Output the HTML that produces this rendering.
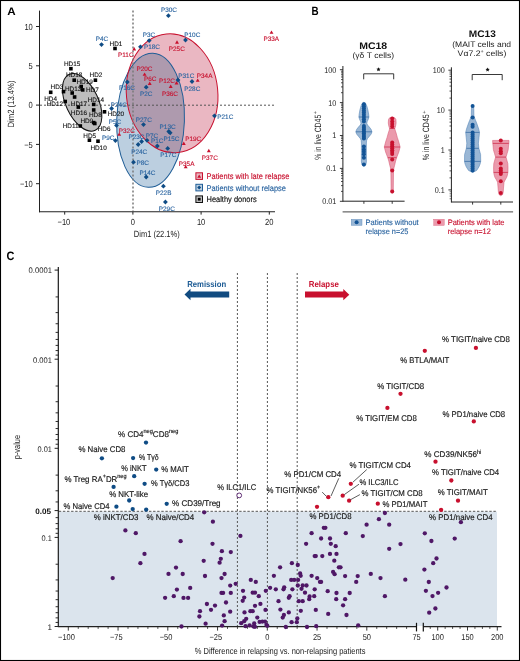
<!DOCTYPE html>
<html><head><meta charset="utf-8"><style>
html,body{margin:0;padding:0;background:#fff;}
svg{display:block;will-change:transform;}
text{font-family:"Liberation Sans",sans-serif;text-rendering:geometricPrecision;}
</style></head><body>
<svg width="520" height="661" viewBox="0 0 520 661">
<rect x="0" y="0" width="520" height="661" fill="#fff"/>
<text x="7.2" y="15.3" font-size="10.8" fill="#000" text-anchor="start" font-weight="bold" textLength="8.4" lengthAdjust="spacingAndGlyphs">A</text>
<defs><clipPath id="cb"><ellipse cx="150.58" cy="120.25" rx="67.09" ry="33.84" transform="rotate(-88.04 150.58 120.25)"/></clipPath></defs>
<ellipse cx="82.16" cy="102.36" rx="30.84" ry="16.26" transform="rotate(64.89 82.16 102.36)" fill="#bdbdbd" stroke="#111" stroke-width="1"/>
<ellipse cx="150.58" cy="120.25" rx="67.09" ry="33.84" transform="rotate(-88.04 150.58 120.25)" fill="#bccfe0"/>
<ellipse cx="172.1" cy="93.27" rx="59.5" ry="45.7" transform="rotate(84.42 172.1 93.27)" fill="#eab7c2"/>
<g clip-path="url(#cb)"><ellipse cx="172.1" cy="93.27" rx="59.5" ry="45.7" transform="rotate(84.42 172.1 93.27)" fill="#ae9aae"/></g>
<ellipse cx="150.58" cy="120.25" rx="67.09" ry="33.84" transform="rotate(-88.04 150.58 120.25)" fill="none" stroke="#1f5d96" stroke-width="1"/>
<ellipse cx="172.1" cy="93.27" rx="59.5" ry="45.7" transform="rotate(84.42 172.1 93.27)" fill="none" stroke="#c8102e" stroke-width="1"/>
<line x1="133" y1="10.6" x2="133" y2="211" stroke="#7a7a7a" stroke-width="1.5" stroke-dasharray="2 2"/>
<line x1="40" y1="105.2" x2="275" y2="105.2" stroke="#555" stroke-width="1" stroke-dasharray="2 2"/>
<line x1="39.5" y1="10.6" x2="39.5" y2="212.25" stroke="#222" stroke-width="1"/>
<line x1="39" y1="211.75" x2="275" y2="211.75" stroke="#222" stroke-width="1"/>
<line x1="36" y1="26.499999999999986" x2="39.5" y2="26.499999999999986" stroke="#222" stroke-width="1"/>
<text x="32.8" y="29.599999999999987" font-size="8.8" fill="#222" text-anchor="end" textLength="8.42" lengthAdjust="spacingAndGlyphs">10</text>
<line x1="36" y1="65.79999999999998" x2="39.5" y2="65.79999999999998" stroke="#222" stroke-width="1"/>
<text x="32.8" y="68.89999999999998" font-size="8.8" fill="#222" text-anchor="end" textLength="4.21" lengthAdjust="spacingAndGlyphs">5</text>
<line x1="36" y1="105.1" x2="39.5" y2="105.1" stroke="#222" stroke-width="1"/>
<text x="32.8" y="108.19999999999999" font-size="8.8" fill="#222" text-anchor="end" textLength="4.21" lengthAdjust="spacingAndGlyphs">0</text>
<line x1="36" y1="144.4" x2="39.5" y2="144.4" stroke="#222" stroke-width="1"/>
<text x="32.8" y="147.5" font-size="8.8" fill="#222" text-anchor="end" textLength="8.63" lengthAdjust="spacingAndGlyphs">&#8722;5</text>
<line x1="36" y1="183.7" x2="39.5" y2="183.7" stroke="#222" stroke-width="1"/>
<text x="32.8" y="186.79999999999998" font-size="8.8" fill="#222" text-anchor="end" textLength="12.84" lengthAdjust="spacingAndGlyphs">&#8722;10</text>
<line x1="64.7" y1="211.75" x2="64.7" y2="214.6" stroke="#222" stroke-width="1"/>
<text x="63.900000000000006" y="224.5" font-size="8.8" fill="#222" text-anchor="middle" textLength="12.84" lengthAdjust="spacingAndGlyphs">&#8722;10</text>
<line x1="132.9" y1="211.75" x2="132.9" y2="214.6" stroke="#222" stroke-width="1"/>
<text x="132.9" y="224.5" font-size="8.8" fill="#222" text-anchor="middle" textLength="4.21" lengthAdjust="spacingAndGlyphs">0</text>
<line x1="201.10000000000002" y1="211.75" x2="201.10000000000002" y2="214.6" stroke="#222" stroke-width="1"/>
<text x="201.10000000000002" y="224.5" font-size="8.8" fill="#222" text-anchor="middle" textLength="8.42" lengthAdjust="spacingAndGlyphs">10</text>
<line x1="269.3" y1="211.75" x2="269.3" y2="214.6" stroke="#222" stroke-width="1"/>
<text x="269.3" y="224.5" font-size="8.8" fill="#222" text-anchor="middle" textLength="8.42" lengthAdjust="spacingAndGlyphs">20</text>
<text x="133.8" y="237.0" font-size="9.0" fill="#222" text-anchor="start" textLength="45.9" lengthAdjust="spacingAndGlyphs">Dim1 (22.1%)</text>
<text x="0" y="0" font-size="9.0" fill="#222" text-anchor="middle" textLength="47" lengthAdjust="spacingAndGlyphs" transform="translate(13.6 104) rotate(-90)">Dim2 (13.4%)</text>
<rect x="113.2" y="46.7" width="3.6" height="3.6" fill="#000"/>
<rect x="69.1" y="66.9" width="3.6" height="3.6" fill="#000"/>
<rect x="72.4" y="78.4" width="3.6" height="3.6" fill="#000"/>
<rect x="93.6" y="78.4" width="3.6" height="3.6" fill="#000"/>
<rect x="79.4" y="84.7" width="3.6" height="3.6" fill="#000"/>
<rect x="80.9" y="88.1" width="3.6" height="3.6" fill="#000"/>
<rect x="61.7" y="89.8" width="3.6" height="3.6" fill="#000"/>
<rect x="48.9" y="90.5" width="3.6" height="3.6" fill="#000"/>
<rect x="70.4" y="91.2" width="3.6" height="3.6" fill="#000"/>
<rect x="72.8" y="95.2" width="3.6" height="3.6" fill="#000"/>
<rect x="63.4" y="99.7" width="3.6" height="3.6" fill="#000"/>
<rect x="76.5" y="105.3" width="3.6" height="3.6" fill="#000"/>
<rect x="91.9" y="102.6" width="3.6" height="3.6" fill="#000"/>
<rect x="91.9" y="108.2" width="3.6" height="3.6" fill="#000"/>
<rect x="102.7" y="110.0" width="3.6" height="3.6" fill="#000"/>
<rect x="78.5" y="124.2" width="3.6" height="3.6" fill="#000"/>
<rect x="91.9" y="120.8" width="3.6" height="3.6" fill="#000"/>
<rect x="93.0" y="121.7" width="3.6" height="3.6" fill="#000"/>
<rect x="87.6" y="138.4" width="3.6" height="3.6" fill="#000"/>
<rect x="96.2" y="139.4" width="3.6" height="3.6" fill="#000"/>
<path d="M168.4 13.3L170.8 15.7L168.4 18.1L166.0 15.7Z" fill="#0f4c85"/>
<path d="M101.5 42.2L103.9 44.6L101.5 47.0L99.1 44.6Z" fill="#0f4c85"/>
<path d="M149.2 38.2L151.6 40.6L149.2 43.0L146.8 40.6Z" fill="#0f4c85"/>
<path d="M185.5 37.6L187.9 40.0L185.5 42.4L183.1 40.0Z" fill="#0f4c85"/>
<path d="M140.5 44.4L142.9 46.8L140.5 49.2L138.1 46.8Z" fill="#0f4c85"/>
<path d="M127.3 79.6L129.7 82.0L127.3 84.4L124.9 82.0Z" fill="#0f4c85"/>
<path d="M146.2 84.8L148.6 87.2L146.2 89.6L143.8 87.2Z" fill="#0f4c85"/>
<path d="M178.0 77.6L180.4 80.0L178.0 82.4L175.6 80.0Z" fill="#0f4c85"/>
<path d="M192.0 79.1L194.4 81.5L192.0 83.9L189.6 81.5Z" fill="#0f4c85"/>
<path d="M111.6 106.1L114.0 108.5L111.6 110.9L109.2 108.5Z" fill="#0f4c85"/>
<path d="M116.5 123.0L118.9 125.4L116.5 127.8L114.1 125.4Z" fill="#0f4c85"/>
<path d="M115.4 138.2L117.8 140.6L115.4 143.0L113.0 140.6Z" fill="#0f4c85"/>
<path d="M143.5 122.2L145.9 124.6L143.5 127.0L141.1 124.6Z" fill="#0f4c85"/>
<path d="M168.8 129.1L171.2 131.5L168.8 133.9L166.4 131.5Z" fill="#0f4c85"/>
<path d="M170.2 130.4L172.6 132.8L170.2 135.2L167.8 132.8Z" fill="#0f4c85"/>
<path d="M147.0 137.9L149.4 140.3L147.0 142.7L144.6 140.3Z" fill="#0f4c85"/>
<path d="M141.6 139.1L144.0 141.5L141.6 143.9L139.2 141.5Z" fill="#0f4c85"/>
<path d="M138.2 142.1L140.6 144.5L138.2 146.9L135.8 144.5Z" fill="#0f4c85"/>
<path d="M157.3 143.6L159.7 146.0L157.3 148.4L154.9 146.0Z" fill="#0f4c85"/>
<path d="M167.7 146.0L170.1 148.4L167.7 150.8L165.3 148.4Z" fill="#0f4c85"/>
<path d="M133.5 159.8L135.9 162.2L133.5 164.6L131.1 162.2Z" fill="#0f4c85"/>
<path d="M146.2 174.6L148.6 177.0L146.2 179.4L143.8 177.0Z" fill="#0f4c85"/>
<path d="M214.5 113.4L216.9 115.8L214.5 118.2L212.1 115.8Z" fill="#0f4c85"/>
<path d="M163.4 183.8L165.8 186.2L163.4 188.6L161.0 186.2Z" fill="#0f4c85"/>
<path d="M165.4 199.6L167.8 202.0L165.4 204.4L163.0 202.0Z" fill="#0f4c85"/>
<path d="M271.50 30.40L273.46 33.80L269.54 33.80Z" fill="#c8102e"/>
<path d="M177.00 40.30L178.96 43.70L175.04 43.70Z" fill="#c8102e"/>
<path d="M134.20 47.10L136.16 50.50L132.24 50.50Z" fill="#c8102e"/>
<path d="M144.60 72.40L146.56 75.80L142.64 75.80Z" fill="#c8102e"/>
<path d="M149.70 81.60L151.66 85.00L147.74 85.00Z" fill="#c8102e"/>
<path d="M176.50 81.10L178.46 84.50L174.54 84.50Z" fill="#c8102e"/>
<path d="M170.70 84.60L172.66 88.00L168.74 88.00Z" fill="#c8102e"/>
<path d="M197.70 78.40L199.66 81.80L195.74 81.80Z" fill="#c8102e"/>
<path d="M119.20 132.40L121.16 135.80L117.24 135.80Z" fill="#c8102e"/>
<path d="M183.80 141.60L185.76 145.00L181.84 145.00Z" fill="#c8102e"/>
<path d="M208.80 148.80L210.76 152.20L206.84 152.20Z" fill="#c8102e"/>
<path d="M185.70 164.90L187.66 168.30L183.74 168.30Z" fill="#c8102e"/>
<text x="109.6" y="46" font-size="6.4" fill="#111" text-anchor="start" stroke="#111" stroke-width="0.12">HD1</text>
<text x="64" y="66" font-size="6.4" fill="#111" text-anchor="start" stroke="#111" stroke-width="0.12">HD15</text>
<text x="66" y="77" font-size="6.4" fill="#111" text-anchor="start" stroke="#111" stroke-width="0.12">HD18</text>
<text x="89.6" y="77" font-size="6.4" fill="#111" text-anchor="start" stroke="#111" stroke-width="0.12">HD2</text>
<text x="76.5" y="84.4" font-size="6.4" fill="#111" text-anchor="start" stroke="#111" stroke-width="0.12">HD19</text>
<text x="86" y="92" font-size="6.4" fill="#111" text-anchor="start" stroke="#111" stroke-width="0.12">HD7</text>
<text x="65" y="90.8" font-size="6.4" fill="#111" text-anchor="start" stroke="#111" stroke-width="0.12">HD13</text>
<text x="50.6" y="89.2" font-size="6.4" fill="#111" text-anchor="start" stroke="#111" stroke-width="0.12">HD3</text>
<text x="44.2" y="100.8" font-size="6.4" fill="#111" text-anchor="start" stroke="#111" stroke-width="0.12">HD4</text>
<text x="46.7" y="105.6" font-size="6.4" fill="#111" text-anchor="start" stroke="#111" stroke-width="0.12">HD12</text>
<text x="70.8" y="105.6" font-size="6.4" fill="#111" text-anchor="start" stroke="#111" stroke-width="0.12">HD17</text>
<text x="87.7" y="101.7" font-size="6.4" fill="#111" text-anchor="start" stroke="#111" stroke-width="0.12">HD14</text>
<text x="89" y="116.5" font-size="6.4" fill="#111" text-anchor="start" stroke="#111" stroke-width="0.12">HD8</text>
<text x="70.8" y="115.2" font-size="6.4" fill="#111" text-anchor="start" stroke="#111" stroke-width="0.12">HD16</text>
<text x="107.7" y="116" font-size="6.4" fill="#111" text-anchor="start" stroke="#111" stroke-width="0.12">HD20</text>
<text x="80.4" y="122.5" font-size="6.4" fill="#111" text-anchor="start" stroke="#111" stroke-width="0.12">HD9</text>
<text x="62.7" y="128" font-size="6.4" fill="#111" text-anchor="start" stroke="#111" stroke-width="0.12">HD11</text>
<text x="97.7" y="130.6" font-size="6.4" fill="#111" text-anchor="start" stroke="#111" stroke-width="0.12">HD6</text>
<text x="83.3" y="137.7" font-size="6.4" fill="#111" text-anchor="start" stroke="#111" stroke-width="0.12">HD5</text>
<text x="90.4" y="149.8" font-size="6.4" fill="#111" text-anchor="start" stroke="#111" stroke-width="0.12">HD10</text>
<text x="161" y="12" font-size="6.4" fill="#2a64a0" text-anchor="start" stroke="#2a64a0" stroke-width="0.12">P30C</text>
<text x="95.8" y="41.2" font-size="6.4" fill="#2a64a0" text-anchor="start" stroke="#2a64a0" stroke-width="0.12">P4C</text>
<text x="142.8" y="37" font-size="6.4" fill="#2a64a0" text-anchor="start" stroke="#2a64a0" stroke-width="0.12">P3C</text>
<text x="184.3" y="37" font-size="6.4" fill="#2a64a0" text-anchor="start" stroke="#2a64a0" stroke-width="0.12">P10C</text>
<text x="144" y="49" font-size="6.4" fill="#2a64a0" text-anchor="start" stroke="#2a64a0" stroke-width="0.12">P18C</text>
<text x="119" y="90" font-size="6.4" fill="#2a64a0" text-anchor="start" stroke="#2a64a0" stroke-width="0.12">P16C</text>
<text x="140" y="95.8" font-size="6.4" fill="#2a64a0" text-anchor="start" stroke="#2a64a0" stroke-width="0.12">P2C</text>
<text x="178.3" y="78" font-size="6.4" fill="#2a64a0" text-anchor="start" stroke="#2a64a0" stroke-width="0.12">P31C</text>
<text x="184.3" y="90.5" font-size="6.4" fill="#2a64a0" text-anchor="start" stroke="#2a64a0" stroke-width="0.12">P28C</text>
<text x="110.8" y="107" font-size="6.4" fill="#2a64a0" text-anchor="start" stroke="#2a64a0" stroke-width="0.12">P24C</text>
<text x="108.8" y="123.5" font-size="6.4" fill="#2a64a0" text-anchor="start" stroke="#2a64a0" stroke-width="0.12">P5C</text>
<text x="102" y="139.6" font-size="6.4" fill="#2a64a0" text-anchor="start" stroke="#2a64a0" stroke-width="0.12">P9C</text>
<text x="135.8" y="121.6" font-size="6.4" fill="#2a64a0" text-anchor="start" stroke="#2a64a0" stroke-width="0.12">P27C</text>
<text x="159.6" y="128.5" font-size="6.4" fill="#2a64a0" text-anchor="start" stroke="#2a64a0" stroke-width="0.12">P13C</text>
<text x="163.5" y="140.8" font-size="6.4" fill="#2a64a0" text-anchor="start" stroke="#2a64a0" stroke-width="0.12">P15C</text>
<text x="145.8" y="137.8" font-size="6.4" fill="#2a64a0" text-anchor="start" stroke="#2a64a0" stroke-width="0.12">P7C</text>
<text x="128.5" y="139" font-size="6.4" fill="#2a64a0" text-anchor="start" stroke="#2a64a0" stroke-width="0.12">P23C</text>
<text x="131.2" y="153.5" font-size="6.4" fill="#2a64a0" text-anchor="start" stroke="#2a64a0" stroke-width="0.12">P24C</text>
<text x="151" y="143" font-size="6.4" fill="#2a64a0" text-anchor="start" stroke="#2a64a0" stroke-width="0.12">P1C</text>
<text x="160.3" y="157" font-size="6.4" fill="#2a64a0" text-anchor="start" stroke="#2a64a0" stroke-width="0.12">P17C</text>
<text x="136.5" y="165" font-size="6.4" fill="#2a64a0" text-anchor="start" stroke="#2a64a0" stroke-width="0.12">P8C</text>
<text x="139.5" y="174.7" font-size="6.4" fill="#2a64a0" text-anchor="start" stroke="#2a64a0" stroke-width="0.12">P14C</text>
<text x="217.3" y="118.8" font-size="6.4" fill="#2a64a0" text-anchor="start" stroke="#2a64a0" stroke-width="0.12">P21C</text>
<text x="155.8" y="194.6" font-size="6.4" fill="#2a64a0" text-anchor="start" stroke="#2a64a0" stroke-width="0.12">P22B</text>
<text x="158.8" y="210.8" font-size="6.4" fill="#2a64a0" text-anchor="start" stroke="#2a64a0" stroke-width="0.12">P29C</text>
<text x="263.5" y="41" font-size="6.4" fill="#c8102e" text-anchor="start" stroke="#c8102e" stroke-width="0.12">P33A</text>
<text x="168.8" y="51" font-size="6.4" fill="#c8102e" text-anchor="start" stroke="#c8102e" stroke-width="0.12">P25C</text>
<text x="118" y="56.5" font-size="6.4" fill="#c8102e" text-anchor="start" stroke="#c8102e" stroke-width="0.12">P11C</text>
<text x="136.5" y="71" font-size="6.4" fill="#c8102e" text-anchor="start" stroke="#c8102e" stroke-width="0.12">P20C</text>
<text x="144" y="81.2" font-size="6.4" fill="#c8102e" text-anchor="start" stroke="#c8102e" stroke-width="0.12">P6C</text>
<text x="159" y="83" font-size="6.4" fill="#c8102e" text-anchor="start" stroke="#c8102e" stroke-width="0.12">P12C</text>
<text x="162" y="95.8" font-size="6.4" fill="#c8102e" text-anchor="start" stroke="#c8102e" stroke-width="0.12">P36C</text>
<text x="196.8" y="78" font-size="6.4" fill="#c8102e" text-anchor="start" stroke="#c8102e" stroke-width="0.12">P34A</text>
<text x="118.8" y="132.5" font-size="6.4" fill="#c8102e" text-anchor="start" stroke="#c8102e" stroke-width="0.12">P32C</text>
<text x="185.2" y="141.2" font-size="6.4" fill="#c8102e" text-anchor="start" stroke="#c8102e" stroke-width="0.12">P19C</text>
<text x="201.8" y="159.7" font-size="6.4" fill="#c8102e" text-anchor="start" stroke="#c8102e" stroke-width="0.12">P37C</text>
<text x="178.8" y="165.5" font-size="6.4" fill="#c8102e" text-anchor="start" stroke="#c8102e" stroke-width="0.12">P35A</text>
<rect x="195.9" y="172.8" width="6.6" height="6.6" fill="#eab7c2" stroke="#c8102e" stroke-width="1"/>
<path d="M199.20 174.40L201.16 177.80L197.24 177.80Z" fill="#c8102e"/>
<rect x="195.9" y="184.3" width="6.6" height="6.6" fill="#bccfe0" stroke="#1f5d96" stroke-width="1"/>
<path d="M199.2 185.6L201.2 187.6L199.2 189.6L197.2 187.6Z" fill="#0f4c85"/>
<rect x="195.9" y="195.9" width="6.6" height="6.6" fill="#bdbdbd" stroke="#111" stroke-width="1"/>
<rect x="197.8" y="197.8" width="2.8" height="2.8" fill="#000"/>
<text x="206.5" y="179.0" font-size="8.2" fill="#c8102e" text-anchor="start" textLength="83" lengthAdjust="spacingAndGlyphs" stroke="#c8102e" stroke-width="0.15">Patients with late relapse</text>
<text x="206.5" y="190.6" font-size="8.2" fill="#2a64a0" text-anchor="start" textLength="79.5" lengthAdjust="spacingAndGlyphs" stroke="#2a64a0" stroke-width="0.15">Patients without relapse</text>
<text x="206.5" y="202.1" font-size="8.2" fill="#111" text-anchor="start" textLength="50.2" lengthAdjust="spacingAndGlyphs" stroke="#111" stroke-width="0.15">Healthy donors</text>
<text x="311.5" y="15.3" font-size="11.9" fill="#000" text-anchor="start" font-weight="bold" textLength="7.1" lengthAdjust="spacingAndGlyphs">B</text>
<text x="373.2" y="48.7" font-size="9.6" fill="#111" text-anchor="middle" font-weight="bold" textLength="28" lengthAdjust="spacingAndGlyphs">MC18</text>
<text x="373.3" y="58.2" font-size="8" fill="#222" text-anchor="middle" textLength="41.6" lengthAdjust="spacingAndGlyphs">(&#947;&#948; T cells)</text>
<text x="482.3" y="37" font-size="9.6" fill="#111" text-anchor="middle" font-weight="bold" textLength="27" lengthAdjust="spacingAndGlyphs">MC13</text>
<text x="481.7" y="47.2" font-size="8" fill="#222" text-anchor="middle" textLength="58.8" lengthAdjust="spacingAndGlyphs">(MAIT cells and</text>
<text x="457.6" y="56" font-size="8" fill="#222" textLength="48.7" lengthAdjust="spacingAndGlyphs">V&#945;7.2<tspan font-size="5" dy="-3">+</tspan><tspan dy="3"> cells)</tspan></text>
<text x="0" y="0" font-size="9.1" fill="#222" textLength="45" lengthAdjust="spacingAndGlyphs" transform="translate(320.9 159.8) rotate(-90)">% in live CD45</text>
<text x="0" y="0" font-size="5.5" fill="#222" transform="translate(317.29999999999995 114.20000000000002) rotate(-90)">+</text>
<text x="0" y="0" font-size="9.1" fill="#222" textLength="46" lengthAdjust="spacingAndGlyphs" transform="translate(429.3 160.3) rotate(-90)">% in live CD45</text>
<text x="0" y="0" font-size="5.5" fill="#222" transform="translate(425.7 113.70000000000002) rotate(-90)">+</text>
<path d="M363.90 102.20 L362.30 103.20 L361.00 106.00 L359.90 110.00 L359.20 114.00 L358.90 117.00 L359.60 119.50 L360.60 121.50 L361.00 123.30 L360.30 125.00 L358.50 127.00 L356.60 129.50 L355.85 131.80 L356.60 134.00 L358.60 136.50 L360.30 138.50 L361.15 140.30 L361.40 143.00 L361.40 162.00 L361.90 164.50 L363.90 166.50 L363.90 166.50 L365.90 164.50 L366.40 162.00 L366.40 143.00 L366.65 140.30 L367.50 138.50 L369.20 136.50 L371.20 134.00 L371.95 131.80 L371.20 129.50 L369.30 127.00 L367.50 125.00 L366.80 123.30 L367.20 121.50 L368.20 119.50 L368.90 117.00 L368.60 114.00 L367.90 110.00 L366.80 106.00 L365.50 103.20 L363.90 102.20Z" fill="#9ab7d5" stroke="#5a89ba" stroke-width="0.6" stroke-linejoin="round"/>
<path d="M392.20 117.30 L389.60 117.80 L388.50 119.50 L388.30 123.00 L388.80 126.00 L389.60 128.50 L389.30 130.00 L388.30 133.00 L387.10 137.40 L385.60 142.00 L384.30 147.00 L385.60 152.00 L387.80 157.70 L388.80 161.00 L389.80 165.40 L390.50 168.00 L390.90 171.70 L391.10 188.00 L390.90 191.00 L392.20 193.30 L392.20 193.30 L393.50 191.00 L393.30 188.00 L393.50 171.70 L393.90 168.00 L394.60 165.40 L395.60 161.00 L396.60 157.70 L398.80 152.00 L400.10 147.00 L398.80 142.00 L397.30 137.40 L396.10 133.00 L395.10 130.00 L394.80 128.50 L395.60 126.00 L396.10 123.00 L395.90 119.50 L394.80 117.80 L392.20 117.30Z" fill="#eb9aac" stroke="#d9607a" stroke-width="0.6" stroke-linejoin="round"/>
<path d="M472.60 105.40 L471.60 106.00 L471.40 110.00 L471.30 116.00 L470.40 118.50 L469.60 120.50 L468.60 123.00 L467.50 126.10 L466.50 129.00 L465.70 132.40 L466.20 137.50 L466.80 143.20 L466.35 148.30 L465.60 151.00 L464.60 154.50 L464.50 161.40 L465.10 164.00 L466.35 167.00 L468.60 170.50 L472.60 172.40 L472.60 172.40 L476.60 170.50 L478.85 167.00 L480.10 164.00 L480.70 161.40 L480.60 154.50 L479.60 151.00 L478.85 148.30 L478.40 143.20 L479.00 137.50 L479.50 132.40 L478.70 129.00 L477.70 126.10 L476.60 123.00 L475.60 120.50 L474.80 118.50 L473.90 116.00 L473.80 110.00 L473.60 106.00 L472.60 105.40Z" fill="#9ab7d5" stroke="#5a89ba" stroke-width="0.6" stroke-linejoin="round"/>
<path d="M500.80 140.40 L492.60 140.45 L492.80 143.40 L493.10 146.00 L493.40 149.70 L494.50 153.50 L495.60 157.10 L494.80 160.00 L493.80 163.50 L493.60 168.00 L493.70 172.40 L494.20 175.00 L494.90 177.30 L496.50 180.00 L497.60 182.20 L498.10 188.10 L498.40 192.00 L499.00 194.50 L500.80 195.80 L500.80 195.80 L502.60 194.50 L503.20 192.00 L503.50 188.10 L504.00 182.20 L505.10 180.00 L506.70 177.30 L507.40 175.00 L507.90 172.40 L508.00 168.00 L507.80 163.50 L506.80 160.00 L506.00 157.10 L507.10 153.50 L508.20 149.70 L508.50 146.00 L508.80 143.40 L509.00 140.45 L500.80 140.40Z" fill="#eb9aac" stroke="#d9607a" stroke-width="0.6" stroke-linejoin="round"/>
<line x1="358.9" y1="117" x2="368.9" y2="117" stroke="#3a6fa6" stroke-width="0.8"/>
<line x1="355.85" y1="131.8" x2="371.95" y2="131.8" stroke="#3a6fa6" stroke-width="0.8"/>
<line x1="389.6" y1="128.5" x2="394.8" y2="128.5" stroke="#cf2f4e" stroke-width="0.8"/>
<line x1="384.3" y1="147" x2="400.1" y2="147" stroke="#cf2f4e" stroke-width="0.8"/>
<line x1="387.8" y1="157.7" x2="396.6" y2="157.7" stroke="#cf2f4e" stroke-width="0.8"/>
<line x1="465.7" y1="132.4" x2="479.5" y2="132.4" stroke="#3a6fa6" stroke-width="0.8"/>
<line x1="466.35" y1="148.3" x2="478.85" y2="148.3" stroke="#3a6fa6" stroke-width="0.8"/>
<line x1="464.5" y1="161.4" x2="480.7" y2="161.4" stroke="#3a6fa6" stroke-width="0.8"/>
<line x1="492.8" y1="143.4" x2="508.8" y2="143.4" stroke="#cf2f4e" stroke-width="0.8"/>
<line x1="495.6" y1="157.1" x2="506.0" y2="157.1" stroke="#cf2f4e" stroke-width="0.8"/>
<line x1="493.7" y1="172.4" x2="507.9" y2="172.4" stroke="#cf2f4e" stroke-width="0.8"/>
<circle cx="363.9" cy="104.2" r="2.0" fill="#135496"/>
<circle cx="363.9" cy="106.2" r="2.0" fill="#135496"/>
<circle cx="363.9" cy="108.2" r="2.0" fill="#135496"/>
<circle cx="363.9" cy="110.4" r="2.0" fill="#135496"/>
<circle cx="363.9" cy="112.6" r="2.0" fill="#135496"/>
<circle cx="363.9" cy="114.8" r="2.0" fill="#135496"/>
<circle cx="363.9" cy="117" r="2.0" fill="#135496"/>
<circle cx="363.9" cy="119.2" r="2.0" fill="#135496"/>
<circle cx="363.9" cy="121.4" r="2.0" fill="#135496"/>
<circle cx="363.9" cy="126" r="2.0" fill="#135496"/>
<circle cx="363.9" cy="127.8" r="2.0" fill="#135496"/>
<circle cx="363.9" cy="129.6" r="2.0" fill="#135496"/>
<circle cx="363.9" cy="131.4" r="2.0" fill="#135496"/>
<circle cx="363.9" cy="133.2" r="2.0" fill="#135496"/>
<circle cx="363.9" cy="135" r="2.0" fill="#135496"/>
<circle cx="363.9" cy="136.8" r="2.0" fill="#135496"/>
<circle cx="363.9" cy="138.6" r="2.0" fill="#135496"/>
<circle cx="363.9" cy="146.6" r="2.0" fill="#135496"/>
<circle cx="363.9" cy="149.4" r="2.0" fill="#135496"/>
<circle cx="363.9" cy="151.8" r="2.0" fill="#135496"/>
<circle cx="363.9" cy="154.2" r="2.0" fill="#135496"/>
<circle cx="363.9" cy="157.7" r="2.0" fill="#135496"/>
<circle cx="363.9" cy="164.6" r="2.0" fill="#135496"/>
<circle cx="392.2" cy="118.4" r="2.0" fill="#c8102e"/>
<circle cx="392.2" cy="121.5" r="2.0" fill="#c8102e"/>
<circle cx="392.2" cy="124.1" r="2.0" fill="#c8102e"/>
<circle cx="392.2" cy="126.6" r="2.0" fill="#c8102e"/>
<circle cx="392.2" cy="142.5" r="2.0" fill="#c8102e"/>
<circle cx="392.2" cy="144.4" r="2.0" fill="#c8102e"/>
<circle cx="392.2" cy="146.3" r="2.0" fill="#c8102e"/>
<circle cx="392.2" cy="148.2" r="2.0" fill="#c8102e"/>
<circle cx="392.2" cy="150.2" r="2.0" fill="#c8102e"/>
<circle cx="392.2" cy="152.1" r="2.0" fill="#c8102e"/>
<circle cx="392.2" cy="154" r="2.0" fill="#c8102e"/>
<circle cx="392.2" cy="159.6" r="2.0" fill="#c8102e"/>
<circle cx="392.2" cy="170.5" r="2.0" fill="#c8102e"/>
<circle cx="392.2" cy="191.4" r="2.0" fill="#c8102e"/>
<circle cx="472.6" cy="105.9" r="2.0" fill="#135496"/>
<circle cx="472.6" cy="117.6" r="2.0" fill="#135496"/>
<circle cx="472.6" cy="124.8" r="2.0" fill="#135496"/>
<circle cx="472.6" cy="126.7" r="2.0" fill="#135496"/>
<circle cx="472.6" cy="132.4" r="2.0" fill="#135496"/>
<circle cx="472.6" cy="134.4" r="2.0" fill="#135496"/>
<circle cx="472.6" cy="136.4" r="2.0" fill="#135496"/>
<circle cx="472.6" cy="138.4" r="2.0" fill="#135496"/>
<circle cx="472.6" cy="140.4" r="2.0" fill="#135496"/>
<circle cx="472.6" cy="142.4" r="2.0" fill="#135496"/>
<circle cx="472.6" cy="144.4" r="2.0" fill="#135496"/>
<circle cx="472.6" cy="146.4" r="2.0" fill="#135496"/>
<circle cx="472.6" cy="148.4" r="2.0" fill="#135496"/>
<circle cx="472.6" cy="150.4" r="2.0" fill="#135496"/>
<circle cx="472.6" cy="152.4" r="2.0" fill="#135496"/>
<circle cx="472.6" cy="154.4" r="2.0" fill="#135496"/>
<circle cx="472.6" cy="156.4" r="2.0" fill="#135496"/>
<circle cx="472.6" cy="158.4" r="2.0" fill="#135496"/>
<circle cx="472.6" cy="160.4" r="2.0" fill="#135496"/>
<circle cx="472.6" cy="162.4" r="2.0" fill="#135496"/>
<circle cx="472.6" cy="164.4" r="2.0" fill="#135496"/>
<circle cx="472.6" cy="166.4" r="2.0" fill="#135496"/>
<circle cx="472.6" cy="168.4" r="2.0" fill="#135496"/>
<circle cx="472.6" cy="170.4" r="2.0" fill="#135496"/>
<circle cx="500.8" cy="140.4" r="2.0" fill="#c8102e"/>
<circle cx="500.8" cy="148.8" r="2.0" fill="#c8102e"/>
<circle cx="500.8" cy="151.2" r="2.0" fill="#c8102e"/>
<circle cx="500.8" cy="153.2" r="2.0" fill="#c8102e"/>
<circle cx="500.8" cy="163.5" r="2.0" fill="#c8102e"/>
<circle cx="500.8" cy="168.4" r="2.0" fill="#c8102e"/>
<circle cx="500.8" cy="170.4" r="2.0" fill="#c8102e"/>
<circle cx="500.8" cy="172.4" r="2.0" fill="#c8102e"/>
<circle cx="500.8" cy="174" r="2.0" fill="#c8102e"/>
<circle cx="500.8" cy="181.2" r="2.0" fill="#c8102e"/>
<circle cx="500.8" cy="193" r="2.0" fill="#c8102e"/>
<line x1="342.9" y1="66" x2="342.9" y2="201.7" stroke="#222" stroke-width="1"/>
<line x1="339.9" y1="69.7" x2="342.9" y2="69.7" stroke="#222" stroke-width="0.9"/>
<text x="336.3" y="72.60000000000001" font-size="8.4" fill="#222" text-anchor="end" textLength="12.05" lengthAdjust="spacingAndGlyphs">100</text>
<line x1="339.9" y1="102.6" x2="342.9" y2="102.6" stroke="#222" stroke-width="0.9"/>
<text x="336.3" y="105.5" font-size="8.4" fill="#222" text-anchor="end" textLength="8.04" lengthAdjust="spacingAndGlyphs">10</text>
<line x1="339.9" y1="135.5" x2="342.9" y2="135.5" stroke="#222" stroke-width="0.9"/>
<text x="336.3" y="138.4" font-size="8.4" fill="#222" text-anchor="end" textLength="4.02" lengthAdjust="spacingAndGlyphs">1</text>
<line x1="339.9" y1="168.4" x2="342.9" y2="168.4" stroke="#222" stroke-width="0.9"/>
<text x="336.3" y="171.3" font-size="8.4" fill="#222" text-anchor="end" textLength="10.04" lengthAdjust="spacingAndGlyphs">0.1</text>
<line x1="339.9" y1="201.3" x2="342.9" y2="201.3" stroke="#222" stroke-width="0.9"/>
<text x="336.3" y="204.20000000000002" font-size="8.4" fill="#222" text-anchor="end" textLength="14.06" lengthAdjust="spacingAndGlyphs">0.01</text>
<line x1="341.0" y1="191.396113142655" x2="342.9" y2="191.396113142655" stroke="#222" stroke-width="0.8"/>
<line x1="341.0" y1="185.60271071972312" x2="342.9" y2="185.60271071972312" stroke="#222" stroke-width="0.8"/>
<line x1="341.0" y1="181.49222628531004" x2="342.9" y2="181.49222628531004" stroke="#222" stroke-width="0.8"/>
<line x1="341.0" y1="178.303886857345" x2="342.9" y2="178.303886857345" stroke="#222" stroke-width="0.8"/>
<line x1="341.0" y1="175.6988238623781" x2="342.9" y2="175.6988238623781" stroke="#222" stroke-width="0.8"/>
<line x1="341.0" y1="173.49627448353095" x2="342.9" y2="173.49627448353095" stroke="#222" stroke-width="0.8"/>
<line x1="341.0" y1="171.58833942796505" x2="342.9" y2="171.58833942796505" stroke="#222" stroke-width="0.8"/>
<line x1="341.0" y1="169.90542143944623" x2="342.9" y2="169.90542143944623" stroke="#222" stroke-width="0.8"/>
<line x1="341.0" y1="158.49611314265502" x2="342.9" y2="158.49611314265502" stroke="#222" stroke-width="0.8"/>
<line x1="341.0" y1="152.70271071972311" x2="342.9" y2="152.70271071972311" stroke="#222" stroke-width="0.8"/>
<line x1="341.0" y1="148.59222628531003" x2="342.9" y2="148.59222628531003" stroke="#222" stroke-width="0.8"/>
<line x1="341.0" y1="145.403886857345" x2="342.9" y2="145.403886857345" stroke="#222" stroke-width="0.8"/>
<line x1="341.0" y1="142.79882386237813" x2="342.9" y2="142.79882386237813" stroke="#222" stroke-width="0.8"/>
<line x1="341.0" y1="140.59627448353095" x2="342.9" y2="140.59627448353095" stroke="#222" stroke-width="0.8"/>
<line x1="341.0" y1="138.68833942796505" x2="342.9" y2="138.68833942796505" stroke="#222" stroke-width="0.8"/>
<line x1="341.0" y1="137.00542143944622" x2="342.9" y2="137.00542143944622" stroke="#222" stroke-width="0.8"/>
<line x1="341.0" y1="125.59611314265501" x2="342.9" y2="125.59611314265501" stroke="#222" stroke-width="0.8"/>
<line x1="341.0" y1="119.80271071972311" x2="342.9" y2="119.80271071972311" stroke="#222" stroke-width="0.8"/>
<line x1="341.0" y1="115.69222628531004" x2="342.9" y2="115.69222628531004" stroke="#222" stroke-width="0.8"/>
<line x1="341.0" y1="112.50388685734498" x2="342.9" y2="112.50388685734498" stroke="#222" stroke-width="0.8"/>
<line x1="341.0" y1="109.89882386237812" x2="342.9" y2="109.89882386237812" stroke="#222" stroke-width="0.8"/>
<line x1="341.0" y1="107.69627448353096" x2="342.9" y2="107.69627448353096" stroke="#222" stroke-width="0.8"/>
<line x1="341.0" y1="105.78833942796506" x2="342.9" y2="105.78833942796506" stroke="#222" stroke-width="0.8"/>
<line x1="341.0" y1="104.10542143944622" x2="342.9" y2="104.10542143944622" stroke="#222" stroke-width="0.8"/>
<line x1="341.0" y1="92.69611314265501" x2="342.9" y2="92.69611314265501" stroke="#222" stroke-width="0.8"/>
<line x1="341.0" y1="86.9027107197231" x2="342.9" y2="86.9027107197231" stroke="#222" stroke-width="0.8"/>
<line x1="341.0" y1="82.79222628531004" x2="342.9" y2="82.79222628531004" stroke="#222" stroke-width="0.8"/>
<line x1="341.0" y1="79.60388685734499" x2="342.9" y2="79.60388685734499" stroke="#222" stroke-width="0.8"/>
<line x1="341.0" y1="76.99882386237812" x2="342.9" y2="76.99882386237812" stroke="#222" stroke-width="0.8"/>
<line x1="341.0" y1="74.79627448353095" x2="342.9" y2="74.79627448353095" stroke="#222" stroke-width="0.8"/>
<line x1="341.0" y1="72.88833942796506" x2="342.9" y2="72.88833942796506" stroke="#222" stroke-width="0.8"/>
<line x1="341.0" y1="71.20542143944621" x2="342.9" y2="71.20542143944621" stroke="#222" stroke-width="0.8"/>
<line x1="342.9" y1="201.2" x2="404.6" y2="201.2" stroke="#222" stroke-width="1"/>
<line x1="363.9" y1="201.2" x2="363.9" y2="203.8" stroke="#222" stroke-width="0.9"/>
<line x1="392.2" y1="201.2" x2="392.2" y2="203.8" stroke="#222" stroke-width="0.9"/>
<line x1="451.4" y1="67.3" x2="451.4" y2="202.5" stroke="#222" stroke-width="1"/>
<line x1="448.4" y1="70.2" x2="451.4" y2="70.2" stroke="#222" stroke-width="0.9"/>
<text x="444.8" y="73.10000000000001" font-size="8.4" fill="#222" text-anchor="end" textLength="12.05" lengthAdjust="spacingAndGlyphs">100</text>
<line x1="448.4" y1="110.1" x2="451.4" y2="110.1" stroke="#222" stroke-width="0.9"/>
<text x="444.8" y="113.0" font-size="8.4" fill="#222" text-anchor="end" textLength="8.04" lengthAdjust="spacingAndGlyphs">10</text>
<line x1="448.4" y1="150.0" x2="451.4" y2="150.0" stroke="#222" stroke-width="0.9"/>
<text x="444.8" y="152.9" font-size="8.4" fill="#222" text-anchor="end" textLength="4.02" lengthAdjust="spacingAndGlyphs">1</text>
<line x1="448.4" y1="189.9" x2="451.4" y2="189.9" stroke="#222" stroke-width="0.9"/>
<text x="444.8" y="192.8" font-size="8.4" fill="#222" text-anchor="end" textLength="10.04" lengthAdjust="spacingAndGlyphs">0.1</text>
<line x1="449.5" y1="177.88890317300715" x2="451.4" y2="177.88890317300715" stroke="#222" stroke-width="0.8"/>
<line x1="449.5" y1="170.86286193668548" x2="451.4" y2="170.86286193668548" stroke="#222" stroke-width="0.8"/>
<line x1="449.5" y1="165.8778063460143" x2="451.4" y2="165.8778063460143" stroke="#222" stroke-width="0.8"/>
<line x1="449.5" y1="162.01109682699285" x2="451.4" y2="162.01109682699285" stroke="#222" stroke-width="0.8"/>
<line x1="449.5" y1="158.85176510969262" x2="451.4" y2="158.85176510969262" stroke="#222" stroke-width="0.8"/>
<line x1="449.5" y1="156.18058820343114" x2="451.4" y2="156.18058820343114" stroke="#222" stroke-width="0.8"/>
<line x1="449.5" y1="153.86670951902144" x2="451.4" y2="153.86670951902144" stroke="#222" stroke-width="0.8"/>
<line x1="449.5" y1="151.82572387337095" x2="451.4" y2="151.82572387337095" stroke="#222" stroke-width="0.8"/>
<line x1="449.5" y1="137.98890317300715" x2="451.4" y2="137.98890317300715" stroke="#222" stroke-width="0.8"/>
<line x1="449.5" y1="130.96286193668547" x2="451.4" y2="130.96286193668547" stroke="#222" stroke-width="0.8"/>
<line x1="449.5" y1="125.9778063460143" x2="451.4" y2="125.9778063460143" stroke="#222" stroke-width="0.8"/>
<line x1="449.5" y1="122.11109682699285" x2="451.4" y2="122.11109682699285" stroke="#222" stroke-width="0.8"/>
<line x1="449.5" y1="118.95176510969262" x2="451.4" y2="118.95176510969262" stroke="#222" stroke-width="0.8"/>
<line x1="449.5" y1="116.28058820343115" x2="451.4" y2="116.28058820343115" stroke="#222" stroke-width="0.8"/>
<line x1="449.5" y1="113.96670951902146" x2="451.4" y2="113.96670951902146" stroke="#222" stroke-width="0.8"/>
<line x1="449.5" y1="111.92572387337094" x2="451.4" y2="111.92572387337094" stroke="#222" stroke-width="0.8"/>
<line x1="449.5" y1="98.08890317300714" x2="451.4" y2="98.08890317300714" stroke="#222" stroke-width="0.8"/>
<line x1="449.5" y1="91.06286193668547" x2="451.4" y2="91.06286193668547" stroke="#222" stroke-width="0.8"/>
<line x1="449.5" y1="86.0778063460143" x2="451.4" y2="86.0778063460143" stroke="#222" stroke-width="0.8"/>
<line x1="449.5" y1="82.21109682699286" x2="451.4" y2="82.21109682699286" stroke="#222" stroke-width="0.8"/>
<line x1="449.5" y1="79.05176510969262" x2="451.4" y2="79.05176510969262" stroke="#222" stroke-width="0.8"/>
<line x1="449.5" y1="76.38058820343115" x2="451.4" y2="76.38058820343115" stroke="#222" stroke-width="0.8"/>
<line x1="449.5" y1="74.06670951902146" x2="451.4" y2="74.06670951902146" stroke="#222" stroke-width="0.8"/>
<line x1="449.5" y1="72.02572387337095" x2="451.4" y2="72.02572387337095" stroke="#222" stroke-width="0.8"/>
<line x1="449.59999999999997" y1="191.72572387337095" x2="451.4" y2="191.72572387337095" stroke="#222" stroke-width="0.6"/>
<line x1="449.59999999999997" y1="193.76670951902145" x2="451.4" y2="193.76670951902145" stroke="#222" stroke-width="0.6"/>
<line x1="449.59999999999997" y1="196.08058820343115" x2="451.4" y2="196.08058820343115" stroke="#222" stroke-width="0.6"/>
<line x1="449.59999999999997" y1="198.75176510969263" x2="451.4" y2="198.75176510969263" stroke="#222" stroke-width="0.6"/>
<line x1="451.4" y1="202" x2="513" y2="202" stroke="#222" stroke-width="1"/>
<line x1="472.6" y1="202" x2="472.6" y2="204.6" stroke="#222" stroke-width="0.9"/>
<line x1="500.8" y1="202" x2="500.8" y2="204.6" stroke="#222" stroke-width="0.9"/>
<path d="M363.7 79.3V73.8H393.7V79.3" fill="none" stroke="#222" stroke-width="0.9"/>
<path d="M472.2 80.2V74.5H502.2V80.2" fill="none" stroke="#222" stroke-width="0.9"/>
<path d="M378.50 67.20 L379.12 68.55 L380.59 68.72 L379.50 69.72 L379.79 71.18 L378.50 70.45 L377.21 71.18 L377.50 69.72 L376.41 68.72 L377.88 68.55Z" fill="#111"/>
<path d="M487.60 67.40 L488.22 68.75 L489.69 68.92 L488.60 69.92 L488.89 71.38 L487.60 70.65 L486.31 71.38 L486.60 69.92 L485.51 68.92 L486.98 68.75Z" fill="#111"/>
<line x1="342.6" y1="211.9" x2="513.1" y2="211.9" stroke="#444" stroke-width="1"/>
<rect x="351.2" y="219.3" width="10.8" height="6.1" fill="#9ab7d5" stroke="#5a89ba" stroke-width="0.4"/>
<circle cx="356.6" cy="222.35" r="2.0" fill="#135496"/>
<rect x="433.8" y="219.3" width="10.4" height="6.1" fill="#eb9aac" stroke="#d9607a" stroke-width="0.4"/>
<circle cx="439" cy="222.35" r="2.0" fill="#c8102e"/>
<text x="365.6" y="225.3" font-size="7.9" fill="#2a64a0" text-anchor="start" textLength="53.1" lengthAdjust="spacingAndGlyphs" stroke="#2a64a0" stroke-width="0.12">Patients without</text>
<text x="365.6" y="234.0" font-size="7.9" fill="#2a64a0" text-anchor="start" textLength="42.8" lengthAdjust="spacingAndGlyphs" stroke="#2a64a0" stroke-width="0.12">relapse n=25</text>
<text x="447.7" y="225.3" font-size="7.9" fill="#c8102e" text-anchor="start" textLength="56.7" lengthAdjust="spacingAndGlyphs" stroke="#c8102e" stroke-width="0.12">Patients with late</text>
<text x="447.7" y="234.0" font-size="7.9" fill="#c8102e" text-anchor="start" textLength="43.2" lengthAdjust="spacingAndGlyphs" stroke="#c8102e" stroke-width="0.12">relapse n=12</text>
<text x="6.6" y="259.9" font-size="12.2" fill="#000" text-anchor="start" font-weight="bold" textLength="7.9" lengthAdjust="spacingAndGlyphs">C</text>
<rect x="58.8" y="511.6" width="438.2" height="114.4" fill="#dbe4ed"/>
<line x1="237.4" y1="273" x2="237.4" y2="626" stroke="#555" stroke-width="1" stroke-dasharray="2 2"/>
<line x1="267.4" y1="273" x2="267.4" y2="626" stroke="#555" stroke-width="1" stroke-dasharray="2 2"/>
<line x1="297.2" y1="273" x2="297.2" y2="626" stroke="#555" stroke-width="1" stroke-dasharray="2 2"/>
<line x1="58.8" y1="511.3" x2="497" y2="511.3" stroke="#555" stroke-width="1" stroke-dasharray="2.4 1.7"/>
<path d="M229.2 291.5H190.5V288.8L184.5 294.5L190.5 300.2V297.5H229.2Z" fill="#114b80"/>
<path d="M305 291.6H343.3V288.9L349.3 294.7L343.3 300.3V297.6H305Z" fill="#c8102e"/>
<text x="187.2" y="286.6" font-size="8.6" fill="#1b5a94" text-anchor="start" font-weight="bold" textLength="39" lengthAdjust="spacingAndGlyphs">Remission</text>
<text x="308.8" y="286.6" font-size="8.6" fill="#c8102e" text-anchor="start" font-weight="bold" textLength="30.1" lengthAdjust="spacingAndGlyphs">Relapse</text>
<line x1="58.3" y1="266.9" x2="58.3" y2="627" stroke="#111" stroke-width="1.15"/>
<line x1="54.6" y1="270.1" x2="58.3" y2="270.1" stroke="#222" stroke-width="1"/>
<text x="51.9" y="273.40000000000003" font-size="8.1" fill="#222" text-anchor="end" textLength="23.4" lengthAdjust="spacingAndGlyphs">0.0001</text>
<line x1="54.6" y1="359.20000000000005" x2="58.3" y2="359.20000000000005" stroke="#222" stroke-width="1"/>
<text x="51.9" y="362.50000000000006" font-size="8.1" fill="#222" text-anchor="end" textLength="18.9" lengthAdjust="spacingAndGlyphs">0.001</text>
<line x1="54.6" y1="448.3" x2="58.3" y2="448.3" stroke="#222" stroke-width="1"/>
<text x="51.9" y="451.6" font-size="8.1" fill="#222" text-anchor="end" textLength="14.4" lengthAdjust="spacingAndGlyphs">0.01</text>
<line x1="54.6" y1="537.4" x2="58.3" y2="537.4" stroke="#222" stroke-width="1"/>
<text x="51.9" y="540.6999999999999" font-size="8.1" fill="#222" text-anchor="end" textLength="10.3" lengthAdjust="spacingAndGlyphs">0.1</text>
<line x1="54.6" y1="626.5" x2="58.3" y2="626.5" stroke="#222" stroke-width="1"/>
<text x="51.9" y="629.8" font-size="8.1" fill="#222" text-anchor="end">1</text>
<line x1="54.6" y1="510.5782273863393" x2="58.3" y2="510.5782273863393" stroke="#222" stroke-width="1"/>
<text x="51.0" y="513.5782273863392" font-size="7.9" fill="#111" text-anchor="end" font-weight="bold" textLength="15.8" lengthAdjust="spacingAndGlyphs">0.05</text>
<line x1="55.6" y1="296.9217726136608" x2="58.3" y2="296.9217726136608" stroke="#222" stroke-width="0.95"/>
<line x1="55.6" y1="312.61150379552197" x2="58.3" y2="312.61150379552197" stroke="#222" stroke-width="0.95"/>
<line x1="55.6" y1="323.7435452273215" x2="58.3" y2="323.7435452273215" stroke="#222" stroke-width="0.95"/>
<line x1="55.6" y1="332.3782273863393" x2="58.3" y2="332.3782273863393" stroke="#222" stroke-width="0.95"/>
<line x1="55.6" y1="339.43327640918267" x2="58.3" y2="339.43327640918267" stroke="#222" stroke-width="0.95"/>
<line x1="55.6" y1="345.3982353652703" x2="58.3" y2="345.3982353652703" stroke="#222" stroke-width="0.95"/>
<line x1="55.6" y1="350.5653178409822" x2="58.3" y2="350.5653178409822" stroke="#222" stroke-width="0.95"/>
<line x1="55.6" y1="355.12300759104386" x2="58.3" y2="355.12300759104386" stroke="#222" stroke-width="0.95"/>
<line x1="55.6" y1="386.02177261366074" x2="58.3" y2="386.02177261366074" stroke="#222" stroke-width="0.95"/>
<line x1="55.6" y1="401.71150379552193" x2="58.3" y2="401.71150379552193" stroke="#222" stroke-width="0.95"/>
<line x1="55.6" y1="412.84354522732144" x2="58.3" y2="412.84354522732144" stroke="#222" stroke-width="0.95"/>
<line x1="55.6" y1="421.4782273863393" x2="58.3" y2="421.4782273863393" stroke="#222" stroke-width="0.95"/>
<line x1="55.6" y1="428.5332764091827" x2="58.3" y2="428.5332764091827" stroke="#222" stroke-width="0.95"/>
<line x1="55.6" y1="434.4982353652703" x2="58.3" y2="434.4982353652703" stroke="#222" stroke-width="0.95"/>
<line x1="55.6" y1="439.6653178409822" x2="58.3" y2="439.6653178409822" stroke="#222" stroke-width="0.95"/>
<line x1="55.6" y1="444.2230075910438" x2="58.3" y2="444.2230075910438" stroke="#222" stroke-width="0.95"/>
<line x1="55.6" y1="475.1217726136607" x2="58.3" y2="475.1217726136607" stroke="#222" stroke-width="0.95"/>
<line x1="55.6" y1="490.81150379552196" x2="58.3" y2="490.81150379552196" stroke="#222" stroke-width="0.95"/>
<line x1="55.6" y1="501.94354522732147" x2="58.3" y2="501.94354522732147" stroke="#222" stroke-width="0.95"/>
<line x1="55.6" y1="517.6332764091827" x2="58.3" y2="517.6332764091827" stroke="#222" stroke-width="0.95"/>
<line x1="55.6" y1="523.5982353652703" x2="58.3" y2="523.5982353652703" stroke="#222" stroke-width="0.95"/>
<line x1="55.6" y1="528.7653178409822" x2="58.3" y2="528.7653178409822" stroke="#222" stroke-width="0.95"/>
<line x1="55.6" y1="533.3230075910438" x2="58.3" y2="533.3230075910438" stroke="#222" stroke-width="0.95"/>
<line x1="55.6" y1="564.2217726136607" x2="58.3" y2="564.2217726136607" stroke="#222" stroke-width="0.95"/>
<line x1="55.6" y1="579.9115037955219" x2="58.3" y2="579.9115037955219" stroke="#222" stroke-width="0.95"/>
<line x1="55.6" y1="591.0435452273215" x2="58.3" y2="591.0435452273215" stroke="#222" stroke-width="0.95"/>
<line x1="55.6" y1="599.6782273863392" x2="58.3" y2="599.6782273863392" stroke="#222" stroke-width="0.95"/>
<line x1="55.6" y1="606.7332764091827" x2="58.3" y2="606.7332764091827" stroke="#222" stroke-width="0.95"/>
<line x1="55.6" y1="612.6982353652703" x2="58.3" y2="612.6982353652703" stroke="#222" stroke-width="0.95"/>
<line x1="55.6" y1="617.8653178409822" x2="58.3" y2="617.8653178409822" stroke="#222" stroke-width="0.95"/>
<line x1="55.6" y1="622.4230075910439" x2="58.3" y2="622.4230075910439" stroke="#222" stroke-width="0.95"/>
<text x="0" y="0" font-size="9.2" fill="#222" text-anchor="middle" textLength="24.2" lengthAdjust="spacingAndGlyphs" transform="translate(20.0 447.1) rotate(-90)">p-value</text>
<line x1="57.8" y1="626.6" x2="416.5" y2="626.6" stroke="#222" stroke-width="1.3"/>
<line x1="423.3" y1="626.6" x2="501.5" y2="626.6" stroke="#222" stroke-width="1.3"/>
<line x1="416.5" y1="622.8" x2="416.5" y2="631.4" stroke="#111" stroke-width="1.2"/>
<line x1="423.3" y1="622.8" x2="423.3" y2="631.4" stroke="#111" stroke-width="1.2"/>
<line x1="68.3" y1="626.6" x2="68.3" y2="630.6" stroke="#222" stroke-width="0.9"/>
<line x1="78.25" y1="626.6" x2="78.25" y2="628.9" stroke="#222" stroke-width="0.8"/>
<line x1="88.19999999999999" y1="626.6" x2="88.19999999999999" y2="628.9" stroke="#222" stroke-width="0.8"/>
<line x1="98.15" y1="626.6" x2="98.15" y2="628.9" stroke="#222" stroke-width="0.8"/>
<line x1="108.1" y1="626.6" x2="108.1" y2="628.9" stroke="#222" stroke-width="0.8"/>
<line x1="118.05" y1="626.6" x2="118.05" y2="630.6" stroke="#222" stroke-width="0.9"/>
<line x1="128.0" y1="626.6" x2="128.0" y2="628.9" stroke="#222" stroke-width="0.8"/>
<line x1="137.95" y1="626.6" x2="137.95" y2="628.9" stroke="#222" stroke-width="0.8"/>
<line x1="147.89999999999998" y1="626.6" x2="147.89999999999998" y2="628.9" stroke="#222" stroke-width="0.8"/>
<line x1="157.85" y1="626.6" x2="157.85" y2="628.9" stroke="#222" stroke-width="0.8"/>
<line x1="167.8" y1="626.6" x2="167.8" y2="630.6" stroke="#222" stroke-width="0.9"/>
<line x1="177.75" y1="626.6" x2="177.75" y2="628.9" stroke="#222" stroke-width="0.8"/>
<line x1="187.7" y1="626.6" x2="187.7" y2="628.9" stroke="#222" stroke-width="0.8"/>
<line x1="197.64999999999998" y1="626.6" x2="197.64999999999998" y2="628.9" stroke="#222" stroke-width="0.8"/>
<line x1="207.60000000000002" y1="626.6" x2="207.60000000000002" y2="628.9" stroke="#222" stroke-width="0.8"/>
<line x1="217.55" y1="626.6" x2="217.55" y2="630.6" stroke="#222" stroke-width="0.9"/>
<line x1="227.5" y1="626.6" x2="227.5" y2="628.9" stroke="#222" stroke-width="0.8"/>
<line x1="237.45" y1="626.6" x2="237.45" y2="628.9" stroke="#222" stroke-width="0.8"/>
<line x1="247.39999999999998" y1="626.6" x2="247.39999999999998" y2="628.9" stroke="#222" stroke-width="0.8"/>
<line x1="257.35" y1="626.6" x2="257.35" y2="628.9" stroke="#222" stroke-width="0.8"/>
<line x1="267.3" y1="626.6" x2="267.3" y2="630.6" stroke="#222" stroke-width="0.9"/>
<line x1="277.25" y1="626.6" x2="277.25" y2="628.9" stroke="#222" stroke-width="0.8"/>
<line x1="287.2" y1="626.6" x2="287.2" y2="628.9" stroke="#222" stroke-width="0.8"/>
<line x1="297.15" y1="626.6" x2="297.15" y2="628.9" stroke="#222" stroke-width="0.8"/>
<line x1="307.1" y1="626.6" x2="307.1" y2="628.9" stroke="#222" stroke-width="0.8"/>
<line x1="317.05" y1="626.6" x2="317.05" y2="630.6" stroke="#222" stroke-width="0.9"/>
<line x1="327.0" y1="626.6" x2="327.0" y2="628.9" stroke="#222" stroke-width="0.8"/>
<line x1="336.95" y1="626.6" x2="336.95" y2="628.9" stroke="#222" stroke-width="0.8"/>
<line x1="346.90000000000003" y1="626.6" x2="346.90000000000003" y2="628.9" stroke="#222" stroke-width="0.8"/>
<line x1="356.85" y1="626.6" x2="356.85" y2="628.9" stroke="#222" stroke-width="0.8"/>
<line x1="366.8" y1="626.6" x2="366.8" y2="630.6" stroke="#222" stroke-width="0.9"/>
<line x1="376.75" y1="626.6" x2="376.75" y2="628.9" stroke="#222" stroke-width="0.8"/>
<line x1="386.7" y1="626.6" x2="386.7" y2="628.9" stroke="#222" stroke-width="0.8"/>
<line x1="396.65000000000003" y1="626.6" x2="396.65000000000003" y2="628.9" stroke="#222" stroke-width="0.8"/>
<line x1="406.6" y1="626.6" x2="406.6" y2="628.9" stroke="#222" stroke-width="0.8"/>
<line x1="430.25" y1="626.6" x2="430.25" y2="628.9" stroke="#222" stroke-width="0.8"/>
<line x1="437.7" y1="626.6" x2="437.7" y2="630.6" stroke="#222" stroke-width="0.9"/>
<line x1="445.15" y1="626.6" x2="445.15" y2="628.9" stroke="#222" stroke-width="0.8"/>
<line x1="452.59999999999997" y1="626.6" x2="452.59999999999997" y2="628.9" stroke="#222" stroke-width="0.8"/>
<line x1="460.05" y1="626.6" x2="460.05" y2="628.9" stroke="#222" stroke-width="0.8"/>
<line x1="467.5" y1="626.6" x2="467.5" y2="630.6" stroke="#222" stroke-width="0.9"/>
<line x1="474.95" y1="626.6" x2="474.95" y2="628.9" stroke="#222" stroke-width="0.8"/>
<line x1="482.4" y1="626.6" x2="482.4" y2="628.9" stroke="#222" stroke-width="0.8"/>
<line x1="489.84999999999997" y1="626.6" x2="489.84999999999997" y2="628.9" stroke="#222" stroke-width="0.8"/>
<line x1="497.29999999999995" y1="626.6" x2="497.29999999999995" y2="630.6" stroke="#222" stroke-width="0.9"/>
<text x="66.5" y="640.3" font-size="8.5" fill="#222" text-anchor="middle" textLength="16.85" lengthAdjust="spacingAndGlyphs">&#8722;100</text>
<text x="116.25" y="640.3" font-size="8.5" fill="#222" text-anchor="middle" textLength="12.69" lengthAdjust="spacingAndGlyphs">&#8722;75</text>
<text x="166.0" y="640.3" font-size="8.5" fill="#222" text-anchor="middle" textLength="12.69" lengthAdjust="spacingAndGlyphs">&#8722;50</text>
<text x="215.75" y="640.3" font-size="8.5" fill="#222" text-anchor="middle" textLength="12.69" lengthAdjust="spacingAndGlyphs">&#8722;25</text>
<text x="267.3" y="640.3" font-size="8.5" fill="#222" text-anchor="middle" textLength="4.16" lengthAdjust="spacingAndGlyphs">0</text>
<text x="317.05" y="640.3" font-size="8.5" fill="#222" text-anchor="middle" textLength="8.32" lengthAdjust="spacingAndGlyphs">25</text>
<text x="366.8" y="640.3" font-size="8.5" fill="#222" text-anchor="middle" textLength="8.32" lengthAdjust="spacingAndGlyphs">50</text>
<text x="416.55" y="640.3" font-size="8.5" fill="#222" text-anchor="middle" textLength="8.32" lengthAdjust="spacingAndGlyphs">75</text>
<text x="437.7" y="640.3" font-size="8.5" fill="#222" text-anchor="middle" textLength="12.48" lengthAdjust="spacingAndGlyphs">100</text>
<text x="467.5" y="640.3" font-size="8.5" fill="#222" text-anchor="middle" textLength="12.48" lengthAdjust="spacingAndGlyphs">150</text>
<text x="497.29999999999995" y="640.3" font-size="8.5" fill="#222" text-anchor="middle" textLength="12.48" lengthAdjust="spacingAndGlyphs">200</text>
<text x="194.8" y="653.5" font-size="8.9" fill="#222" text-anchor="start" textLength="170.6" lengthAdjust="spacingAndGlyphs">% Difference in relapsing vs. non-relapsing patients</text>
<circle cx="125.4" cy="530.4" r="2.15" fill="#4f1766"/>
<circle cx="135.8" cy="533.2" r="2.15" fill="#4f1766"/>
<circle cx="144.5" cy="553.9" r="2.15" fill="#4f1766"/>
<circle cx="140.4" cy="563.2" r="2.15" fill="#4f1766"/>
<circle cx="112.7" cy="578.1" r="2.15" fill="#4f1766"/>
<circle cx="168.5" cy="573.9" r="2.15" fill="#4f1766"/>
<circle cx="165.1" cy="597.8" r="2.15" fill="#4f1766"/>
<circle cx="173.8" cy="596.2" r="2.15" fill="#4f1766"/>
<circle cx="204.2" cy="512.3" r="2.15" fill="#4f1766"/>
<circle cx="212.9" cy="521.7" r="2.15" fill="#4f1766"/>
<circle cx="240.4" cy="535.9" r="2.15" fill="#4f1766"/>
<circle cx="180.6" cy="541.2" r="2.15" fill="#4f1766"/>
<circle cx="212.5" cy="543.8" r="2.15" fill="#4f1766"/>
<circle cx="221.9" cy="551.2" r="2.15" fill="#4f1766"/>
<circle cx="230.8" cy="552.1" r="2.15" fill="#4f1766"/>
<circle cx="220.8" cy="558.8" r="2.15" fill="#4f1766"/>
<circle cx="203.7" cy="560.8" r="2.15" fill="#4f1766"/>
<circle cx="219.6" cy="562.7" r="2.15" fill="#4f1766"/>
<circle cx="176" cy="567.6" r="2.15" fill="#4f1766"/>
<circle cx="182.7" cy="574" r="2.15" fill="#4f1766"/>
<circle cx="205" cy="576" r="2.15" fill="#4f1766"/>
<circle cx="224.6" cy="574" r="2.15" fill="#4f1766"/>
<circle cx="221.5" cy="578.1" r="2.15" fill="#4f1766"/>
<circle cx="230.2" cy="585.6" r="2.15" fill="#4f1766"/>
<circle cx="235.7" cy="583.8" r="2.15" fill="#4f1766"/>
<circle cx="176.9" cy="589.6" r="2.15" fill="#4f1766"/>
<circle cx="190.2" cy="587.9" r="2.15" fill="#4f1766"/>
<circle cx="183.5" cy="597.9" r="2.15" fill="#4f1766"/>
<circle cx="188.1" cy="597.9" r="2.15" fill="#4f1766"/>
<circle cx="221.5" cy="592.9" r="2.15" fill="#4f1766"/>
<circle cx="223.1" cy="592.9" r="2.15" fill="#4f1766"/>
<circle cx="230.8" cy="592.9" r="2.15" fill="#4f1766"/>
<circle cx="226" cy="602.5" r="2.15" fill="#4f1766"/>
<circle cx="206.9" cy="604" r="2.15" fill="#4f1766"/>
<circle cx="215" cy="605.6" r="2.15" fill="#4f1766"/>
<circle cx="211" cy="609.8" r="2.15" fill="#4f1766"/>
<circle cx="200" cy="611.2" r="2.15" fill="#4f1766"/>
<circle cx="199.4" cy="616.5" r="2.15" fill="#4f1766"/>
<circle cx="230.2" cy="611.7" r="2.15" fill="#4f1766"/>
<circle cx="223.8" cy="615.4" r="2.15" fill="#4f1766"/>
<circle cx="224.6" cy="621.2" r="2.15" fill="#4f1766"/>
<circle cx="205.6" cy="623.7" r="2.15" fill="#4f1766"/>
<circle cx="222.1" cy="625.6" r="2.15" fill="#4f1766"/>
<circle cx="181.5" cy="626.5" r="2.15" fill="#4f1766"/>
<circle cx="311.6" cy="533.2" r="2.15" fill="#4f1766"/>
<circle cx="306.1" cy="543.8" r="2.15" fill="#4f1766"/>
<circle cx="314.7" cy="556.1" r="2.15" fill="#4f1766"/>
<circle cx="291.9" cy="563.2" r="2.15" fill="#4f1766"/>
<circle cx="297.8" cy="565" r="2.15" fill="#4f1766"/>
<circle cx="280.1" cy="567.3" r="2.15" fill="#4f1766"/>
<circle cx="250.8" cy="579.9" r="2.15" fill="#4f1766"/>
<circle cx="255.8" cy="581.9" r="2.15" fill="#4f1766"/>
<circle cx="243" cy="590.8" r="2.15" fill="#4f1766"/>
<circle cx="244.2" cy="597.6" r="2.15" fill="#4f1766"/>
<circle cx="242.7" cy="600.8" r="2.15" fill="#4f1766"/>
<circle cx="252.7" cy="592.7" r="2.15" fill="#4f1766"/>
<circle cx="255" cy="592.7" r="2.15" fill="#4f1766"/>
<circle cx="258.8" cy="596.2" r="2.15" fill="#4f1766"/>
<circle cx="260.4" cy="603.9" r="2.15" fill="#4f1766"/>
<circle cx="255" cy="605.8" r="2.15" fill="#4f1766"/>
<circle cx="250.4" cy="611.2" r="2.15" fill="#4f1766"/>
<circle cx="252.7" cy="611.2" r="2.15" fill="#4f1766"/>
<circle cx="244.5" cy="612.4" r="2.15" fill="#4f1766"/>
<circle cx="257.3" cy="617.6" r="2.15" fill="#4f1766"/>
<circle cx="246.2" cy="618.8" r="2.15" fill="#4f1766"/>
<circle cx="244.2" cy="621.2" r="2.15" fill="#4f1766"/>
<circle cx="241.2" cy="623.2" r="2.15" fill="#4f1766"/>
<circle cx="245.5" cy="626.2" r="2.15" fill="#4f1766"/>
<circle cx="249.6" cy="625.3" r="2.15" fill="#4f1766"/>
<circle cx="254.2" cy="623.5" r="2.15" fill="#4f1766"/>
<circle cx="253.5" cy="626.5" r="2.15" fill="#4f1766"/>
<circle cx="255" cy="626.8" r="2.15" fill="#4f1766"/>
<circle cx="259.6" cy="621.9" r="2.15" fill="#4f1766"/>
<circle cx="262.4" cy="621.6" r="2.15" fill="#4f1766"/>
<circle cx="265" cy="621.6" r="2.15" fill="#4f1766"/>
<circle cx="266.5" cy="625" r="2.15" fill="#4f1766"/>
<circle cx="267.3" cy="625.8" r="2.15" fill="#4f1766"/>
<circle cx="265.5" cy="609.9" r="2.15" fill="#4f1766"/>
<circle cx="265.8" cy="590.8" r="2.15" fill="#4f1766"/>
<circle cx="270.1" cy="587.8" r="2.15" fill="#4f1766"/>
<circle cx="275.8" cy="589.3" r="2.15" fill="#4f1766"/>
<circle cx="273.9" cy="575.8" r="2.15" fill="#4f1766"/>
<circle cx="284.2" cy="587.3" r="2.15" fill="#4f1766"/>
<circle cx="283.5" cy="589.3" r="2.15" fill="#4f1766"/>
<circle cx="292.4" cy="589.3" r="2.15" fill="#4f1766"/>
<circle cx="278.5" cy="601.2" r="2.15" fill="#4f1766"/>
<circle cx="289.6" cy="596.2" r="2.15" fill="#4f1766"/>
<circle cx="288.8" cy="597.8" r="2.15" fill="#4f1766"/>
<circle cx="280.4" cy="609.6" r="2.15" fill="#4f1766"/>
<circle cx="288.8" cy="612.4" r="2.15" fill="#4f1766"/>
<circle cx="283.9" cy="615" r="2.15" fill="#4f1766"/>
<circle cx="282.7" cy="617.6" r="2.15" fill="#4f1766"/>
<circle cx="291.6" cy="622.2" r="2.15" fill="#4f1766"/>
<circle cx="285.8" cy="627" r="2.15" fill="#4f1766"/>
<circle cx="291.2" cy="579.9" r="2.15" fill="#4f1766"/>
<circle cx="294.2" cy="579.9" r="2.15" fill="#4f1766"/>
<circle cx="298.1" cy="579.9" r="2.15" fill="#4f1766"/>
<circle cx="300.1" cy="573.5" r="2.15" fill="#4f1766"/>
<circle cx="300.7" cy="575.8" r="2.15" fill="#4f1766"/>
<circle cx="311.6" cy="575.8" r="2.15" fill="#4f1766"/>
<circle cx="297.8" cy="585.5" r="2.15" fill="#4f1766"/>
<circle cx="302.7" cy="585.5" r="2.15" fill="#4f1766"/>
<circle cx="306.5" cy="585.5" r="2.15" fill="#4f1766"/>
<circle cx="301.5" cy="588.8" r="2.15" fill="#4f1766"/>
<circle cx="305" cy="592.7" r="2.15" fill="#4f1766"/>
<circle cx="314.7" cy="589.3" r="2.15" fill="#4f1766"/>
<circle cx="309.6" cy="596.5" r="2.15" fill="#4f1766"/>
<circle cx="309.2" cy="599.2" r="2.15" fill="#4f1766"/>
<circle cx="314.2" cy="596.2" r="2.15" fill="#4f1766"/>
<circle cx="298.8" cy="601.2" r="2.15" fill="#4f1766"/>
<circle cx="302.7" cy="601.2" r="2.15" fill="#4f1766"/>
<circle cx="300.8" cy="610.8" r="2.15" fill="#4f1766"/>
<circle cx="297.3" cy="618.5" r="2.15" fill="#4f1766"/>
<circle cx="296.8" cy="622.2" r="2.15" fill="#4f1766"/>
<circle cx="307" cy="627" r="2.15" fill="#4f1766"/>
<circle cx="384.9" cy="513" r="2.15" fill="#4f1766"/>
<circle cx="378.9" cy="519.2" r="2.15" fill="#4f1766"/>
<circle cx="366.6" cy="524.7" r="2.15" fill="#4f1766"/>
<circle cx="389.2" cy="524.7" r="2.15" fill="#4f1766"/>
<circle cx="323.8" cy="527.8" r="2.15" fill="#4f1766"/>
<circle cx="325.4" cy="527.8" r="2.15" fill="#4f1766"/>
<circle cx="345.8" cy="533.2" r="2.15" fill="#4f1766"/>
<circle cx="362.8" cy="536.1" r="2.15" fill="#4f1766"/>
<circle cx="321.1" cy="538.5" r="2.15" fill="#4f1766"/>
<circle cx="330" cy="538.5" r="2.15" fill="#4f1766"/>
<circle cx="330.8" cy="543.8" r="2.15" fill="#4f1766"/>
<circle cx="335.7" cy="546.2" r="2.15" fill="#4f1766"/>
<circle cx="389.2" cy="548.8" r="2.15" fill="#4f1766"/>
<circle cx="315.8" cy="556.1" r="2.15" fill="#4f1766"/>
<circle cx="322.3" cy="556.1" r="2.15" fill="#4f1766"/>
<circle cx="330" cy="553.9" r="2.15" fill="#4f1766"/>
<circle cx="336.5" cy="553.9" r="2.15" fill="#4f1766"/>
<circle cx="334.3" cy="560.7" r="2.15" fill="#4f1766"/>
<circle cx="338.9" cy="567.3" r="2.15" fill="#4f1766"/>
<circle cx="340.5" cy="567.3" r="2.15" fill="#4f1766"/>
<circle cx="333.1" cy="571.9" r="2.15" fill="#4f1766"/>
<circle cx="334.6" cy="574.2" r="2.15" fill="#4f1766"/>
<circle cx="317.2" cy="578.1" r="2.15" fill="#4f1766"/>
<circle cx="320" cy="581.9" r="2.15" fill="#4f1766"/>
<circle cx="321.1" cy="581.9" r="2.15" fill="#4f1766"/>
<circle cx="345.1" cy="576.1" r="2.15" fill="#4f1766"/>
<circle cx="357.7" cy="576.1" r="2.15" fill="#4f1766"/>
<circle cx="356.2" cy="581.9" r="2.15" fill="#4f1766"/>
<circle cx="370.8" cy="573.9" r="2.15" fill="#4f1766"/>
<circle cx="380.5" cy="578.1" r="2.15" fill="#4f1766"/>
<circle cx="327.7" cy="591.2" r="2.15" fill="#4f1766"/>
<circle cx="336.5" cy="593" r="2.15" fill="#4f1766"/>
<circle cx="349.7" cy="593" r="2.15" fill="#4f1766"/>
<circle cx="336.2" cy="599.2" r="2.15" fill="#4f1766"/>
<circle cx="345.1" cy="599.2" r="2.15" fill="#4f1766"/>
<circle cx="343.1" cy="605.3" r="2.15" fill="#4f1766"/>
<circle cx="384.9" cy="596.2" r="2.15" fill="#4f1766"/>
<circle cx="315.8" cy="609.9" r="2.15" fill="#4f1766"/>
<circle cx="328.2" cy="613.9" r="2.15" fill="#4f1766"/>
<circle cx="346.5" cy="615" r="2.15" fill="#4f1766"/>
<circle cx="316.2" cy="626.2" r="2.15" fill="#4f1766"/>
<circle cx="358.2" cy="625.3" r="2.15" fill="#4f1766"/>
<circle cx="460.9" cy="522.2" r="2.15" fill="#4f1766"/>
<circle cx="424.8" cy="533.3" r="2.15" fill="#4f1766"/>
<circle cx="431.4" cy="541" r="2.15" fill="#4f1766"/>
<circle cx="454.7" cy="538.6" r="2.15" fill="#4f1766"/>
<circle cx="400.5" cy="544.1" r="2.15" fill="#4f1766"/>
<circle cx="436.5" cy="558.5" r="2.15" fill="#4f1766"/>
<circle cx="433.2" cy="563.2" r="2.15" fill="#4f1766"/>
<circle cx="424.4" cy="569.6" r="2.15" fill="#4f1766"/>
<circle cx="405.3" cy="579.7" r="2.15" fill="#4f1766"/>
<circle cx="428.8" cy="582" r="2.15" fill="#4f1766"/>
<circle cx="446.5" cy="587.5" r="2.15" fill="#4f1766"/>
<circle cx="425.9" cy="590.8" r="2.15" fill="#4f1766"/>
<circle cx="438.1" cy="592.8" r="2.15" fill="#4f1766"/>
<circle cx="432.5" cy="596.1" r="2.15" fill="#4f1766"/>
<circle cx="435.4" cy="608.5" r="2.15" fill="#4f1766"/>
<circle cx="429.2" cy="612.7" r="2.15" fill="#4f1766"/>
<circle cx="239.2" cy="495.4" r="2.4" fill="#fff" stroke="#4f1766" stroke-width="0.9"/>
<circle cx="146" cy="442.6" r="2.15" fill="#0f4c85"/>
<circle cx="101.9" cy="458.3" r="2.15" fill="#0f4c85"/>
<circle cx="133.1" cy="458.1" r="2.15" fill="#0f4c85"/>
<circle cx="156.2" cy="469.6" r="2.15" fill="#0f4c85"/>
<circle cx="134.2" cy="476.2" r="2.15" fill="#0f4c85"/>
<circle cx="144.6" cy="483.8" r="2.15" fill="#0f4c85"/>
<circle cx="113.6" cy="486.9" r="2.15" fill="#0f4c85"/>
<circle cx="129.2" cy="500.5" r="2.15" fill="#0f4c85"/>
<circle cx="116.4" cy="506.7" r="2.15" fill="#0f4c85"/>
<circle cx="166.7" cy="503.8" r="2.15" fill="#0f4c85"/>
<circle cx="132.7" cy="509.1" r="2.15" fill="#0f4c85"/>
<circle cx="146.2" cy="509.7" r="2.15" fill="#0f4c85"/>
<circle cx="475.9" cy="347.9" r="2.15" fill="#c8102e"/>
<circle cx="424.8" cy="350.8" r="2.15" fill="#c8102e"/>
<circle cx="400.5" cy="393.8" r="2.15" fill="#c8102e"/>
<circle cx="387.4" cy="407.9" r="2.15" fill="#c8102e"/>
<circle cx="473.8" cy="421.4" r="2.15" fill="#c8102e"/>
<circle cx="435.5" cy="461.7" r="2.15" fill="#c8102e"/>
<circle cx="451.3" cy="480.5" r="2.15" fill="#c8102e"/>
<circle cx="458" cy="500.7" r="2.15" fill="#c8102e"/>
<circle cx="377.8" cy="503.7" r="2.15" fill="#c8102e"/>
<circle cx="441.1" cy="509.9" r="2.15" fill="#c8102e"/>
<circle cx="328.3" cy="497.2" r="2.15" fill="#c8102e"/>
<circle cx="350.8" cy="483.8" r="2.15" fill="#c8102e"/>
<circle cx="342.7" cy="495.7" r="2.15" fill="#c8102e"/>
<circle cx="349.1" cy="500.7" r="2.15" fill="#c8102e"/>
<circle cx="317.0" cy="506.8" r="2.15" fill="#c8102e"/>
<line x1="338.8" y1="478.3" x2="331" y2="496" stroke="#333" stroke-width="0.8"/>
<line x1="322.2" y1="492.1" x2="326.4" y2="496.4" stroke="#333" stroke-width="0.8"/>
<line x1="366.8" y1="469.5" x2="353" y2="482.1" stroke="#333" stroke-width="0.8"/>
<line x1="359" y1="484.2" x2="344.3" y2="494.6" stroke="#333" stroke-width="0.8"/>
<line x1="359.9" y1="494.6" x2="350.4" y2="499.8" stroke="#333" stroke-width="0.8"/>
<text x="118" y="436.6" font-size="8.3" fill="#1a1a1a" stroke="#1a1a1a" stroke-width="0.18" textLength="60.3" lengthAdjust="spacingAndGlyphs">% CD4<tspan font-size="5.8" dy="-3.4">neg</tspan><tspan dy="3.4">CD8</tspan><tspan font-size="5.8" dy="-3.4">neg</tspan></text>
<text x="78.4" y="452.40000000000003" font-size="8.3" fill="#1a1a1a" stroke="#1a1a1a" stroke-width="0.18" textLength="47.1" lengthAdjust="spacingAndGlyphs">% Naive CD8</text>
<text x="139" y="460.2" font-size="8.3" fill="#1a1a1a" stroke="#1a1a1a" stroke-width="0.18" textLength="19.7" lengthAdjust="spacingAndGlyphs">% T&#947;&#948;</text>
<text x="121.2" y="470.8" font-size="8.3" fill="#1a1a1a" stroke="#1a1a1a" stroke-width="0.18" textLength="25.3" lengthAdjust="spacingAndGlyphs">% iNKT</text>
<text x="161.2" y="471.90000000000003" font-size="8.3" fill="#1a1a1a" stroke="#1a1a1a" stroke-width="0.18" textLength="27.6" lengthAdjust="spacingAndGlyphs">% MAIT</text>
<text x="64.5" y="481.6" font-size="8.3" fill="#1a1a1a" stroke="#1a1a1a" stroke-width="0.18" textLength="62" lengthAdjust="spacingAndGlyphs">% Treg RA<tspan font-size="5.8" dy="-3.4">+</tspan><tspan dy="3.4">DR</tspan><tspan font-size="5.8" dy="-3.4">neg</tspan></text>
<text x="151" y="486.2" font-size="8.3" fill="#1a1a1a" stroke="#1a1a1a" stroke-width="0.18" textLength="38.4" lengthAdjust="spacingAndGlyphs">% T&#947;&#948;/CD3</text>
<text x="109.2" y="496.6" font-size="8.3" fill="#1a1a1a" stroke="#1a1a1a" stroke-width="0.18" textLength="38.9" lengthAdjust="spacingAndGlyphs">% NKT-like</text>
<text x="63.5" y="509.0" font-size="8.3" fill="#1a1a1a" stroke="#1a1a1a" stroke-width="0.18" textLength="46.1" lengthAdjust="spacingAndGlyphs">% Naive CD4</text>
<text x="172.1" y="506.0" font-size="8.3" fill="#1a1a1a" stroke="#1a1a1a" stroke-width="0.18" textLength="48.5" lengthAdjust="spacingAndGlyphs">% CD39/Treg</text>
<text x="93.8" y="520.3" font-size="8.3" fill="#1a1a1a" stroke="#1a1a1a" stroke-width="0.18" textLength="44.7" lengthAdjust="spacingAndGlyphs">% iNKT/CD3</text>
<text x="146.6" y="520.3" font-size="8.3" fill="#1a1a1a" stroke="#1a1a1a" stroke-width="0.18" textLength="47.7" lengthAdjust="spacingAndGlyphs">% Naive/CD4</text>
<text x="217.3" y="489.8" font-size="8.3" fill="#1a1a1a" stroke="#1a1a1a" stroke-width="0.18" textLength="38.9" lengthAdjust="spacingAndGlyphs">% ILC1/ILC</text>
<text x="442.1" y="342.40000000000003" font-size="8.3" fill="#1a1a1a" stroke="#1a1a1a" stroke-width="0.18" textLength="67.8" lengthAdjust="spacingAndGlyphs">% TIGIT/naive CD8</text>
<text x="400.3" y="362.6" font-size="8.3" fill="#1a1a1a" stroke="#1a1a1a" stroke-width="0.18" textLength="49" lengthAdjust="spacingAndGlyphs">% BTLA/MAIT</text>
<text x="377.2" y="388.5" font-size="8.3" fill="#1a1a1a" stroke="#1a1a1a" stroke-width="0.18" textLength="47" lengthAdjust="spacingAndGlyphs">% TIGIT/CD8</text>
<text x="356.2" y="420.6" font-size="8.3" fill="#1a1a1a" stroke="#1a1a1a" stroke-width="0.18" textLength="60.6" lengthAdjust="spacingAndGlyphs">% TIGIT/EM CD8</text>
<text x="442.5" y="416.6" font-size="8.3" fill="#1a1a1a" stroke="#1a1a1a" stroke-width="0.18" textLength="62.7" lengthAdjust="spacingAndGlyphs">% PD1/naive CD8</text>
<text x="424.3" y="456.90000000000003" font-size="8.3" fill="#1a1a1a" stroke="#1a1a1a" stroke-width="0.18" textLength="57" lengthAdjust="spacingAndGlyphs">% CD39/NK56<tspan font-size="5.8" dy="-3.4">hi</tspan></text>
<text x="432" y="475.1" font-size="8.3" fill="#1a1a1a" stroke="#1a1a1a" stroke-width="0.18" textLength="67.2" lengthAdjust="spacingAndGlyphs">% TIGIT/naive CD4</text>
<text x="437.8" y="495.3" font-size="8.3" fill="#1a1a1a" stroke="#1a1a1a" stroke-width="0.18" textLength="49.9" lengthAdjust="spacingAndGlyphs">% TIGIT/MAIT</text>
<text x="382.4" y="507.40000000000003" font-size="8.3" fill="#1a1a1a" stroke="#1a1a1a" stroke-width="0.18" textLength="45" lengthAdjust="spacingAndGlyphs">% PD1/MAIT</text>
<text x="429.1" y="519.5" font-size="8.3" fill="#1a1a1a" stroke="#1a1a1a" stroke-width="0.18" textLength="63.5" lengthAdjust="spacingAndGlyphs">% PD1/naive CD4</text>
<text x="284.2" y="476.5" font-size="8.3" fill="#1a1a1a" stroke="#1a1a1a" stroke-width="0.18" textLength="57" lengthAdjust="spacingAndGlyphs">% PD1/CM CD4</text>
<text x="266.6" y="492.6" font-size="8.3" fill="#1a1a1a" stroke="#1a1a1a" stroke-width="0.18" textLength="53.6" lengthAdjust="spacingAndGlyphs">% TIGIT/NK56<tspan font-size="5.8" dy="-3.4">+</tspan></text>
<text x="349.5" y="467.6" font-size="8.3" fill="#1a1a1a" stroke="#1a1a1a" stroke-width="0.18" textLength="61.5" lengthAdjust="spacingAndGlyphs">% TIGIT/CM CD4</text>
<text x="359.4" y="484.5" font-size="8.3" fill="#1a1a1a" stroke="#1a1a1a" stroke-width="0.18" textLength="39.1" lengthAdjust="spacingAndGlyphs">% ILC3/ILC</text>
<text x="361.6" y="496.40000000000003" font-size="8.3" fill="#1a1a1a" stroke="#1a1a1a" stroke-width="0.18" textLength="61.1" lengthAdjust="spacingAndGlyphs">% TIGIT/CM CD8</text>
<text x="309.5" y="519.1999999999999" font-size="8.3" fill="#1a1a1a" stroke="#1a1a1a" stroke-width="0.18" textLength="42" lengthAdjust="spacingAndGlyphs">% PD1/CD8</text>
<rect x="0.5" y="0.5" width="519" height="660" fill="none" stroke="#000" stroke-width="1.1"/>
</svg>
</body></html>
